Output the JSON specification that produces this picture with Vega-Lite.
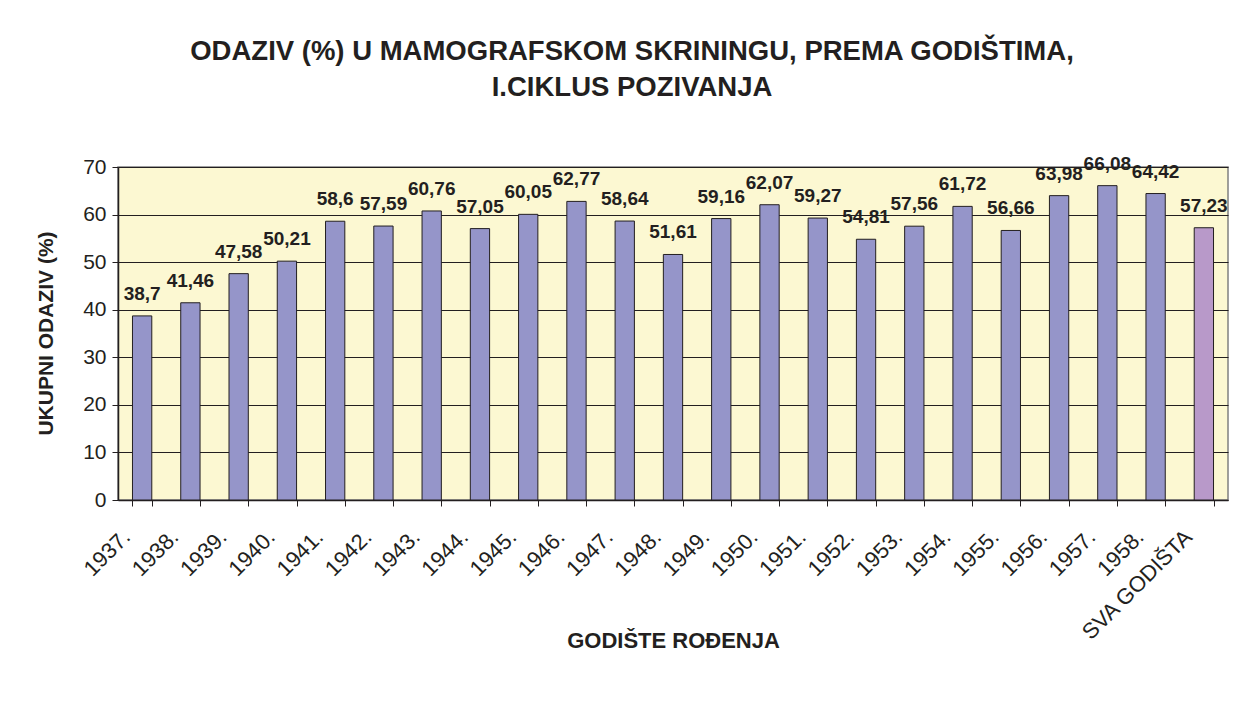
{
  "$schema": "https://vega.github.io/schema/vega-lite/v6.json",
  "width": 1110,
  "height": 333,
  "autosize": {"type": "none"},
  "padding": {"left": 118, "top": 167, "right": 6, "bottom": 222},
  "background": "#ffffff",
  "title": {
    "text": ["ODAZIV (%) U MAMOGRAFSKOM SKRININGU, PREMA GODIŠTIMA,", "I.CIKLUS POZIVANJA"],
    "font": "Liberation Sans",
    "fontSize": 27.5,
    "fontWeight": "bold",
    "color": "#231F20",
    "lineHeight": 36,
    "anchor": "middle",
    "baseline": "bottom",
    "dx": -41,
    "offset": 25
  },
  "data": {
    "values": [
      {"godiste": "1937.", "odaziv": 38.7, "grupa": "godiste"},
      {"godiste": "1938.", "odaziv": 41.46, "grupa": "godiste"},
      {"godiste": "1939.", "odaziv": 47.58, "grupa": "godiste"},
      {"godiste": "1940.", "odaziv": 50.21, "grupa": "godiste"},
      {"godiste": "1941.", "odaziv": 58.6, "grupa": "godiste"},
      {"godiste": "1942.", "odaziv": 57.59, "grupa": "godiste"},
      {"godiste": "1943.", "odaziv": 60.76, "grupa": "godiste"},
      {"godiste": "1944.", "odaziv": 57.05, "grupa": "godiste"},
      {"godiste": "1945.", "odaziv": 60.05, "grupa": "godiste"},
      {"godiste": "1946.", "odaziv": 62.77, "grupa": "godiste"},
      {"godiste": "1947.", "odaziv": 58.64, "grupa": "godiste"},
      {"godiste": "1948.", "odaziv": 51.61, "grupa": "godiste"},
      {"godiste": "1949.", "odaziv": 59.16, "grupa": "godiste"},
      {"godiste": "1950.", "odaziv": 62.07, "grupa": "godiste"},
      {"godiste": "1951.", "odaziv": 59.27, "grupa": "godiste"},
      {"godiste": "1952.", "odaziv": 54.81, "grupa": "godiste"},
      {"godiste": "1953.", "odaziv": 57.56, "grupa": "godiste"},
      {"godiste": "1954.", "odaziv": 61.72, "grupa": "godiste"},
      {"godiste": "1955.", "odaziv": 56.66, "grupa": "godiste"},
      {"godiste": "1956.", "odaziv": 63.98, "grupa": "godiste"},
      {"godiste": "1957.", "odaziv": 66.08, "grupa": "godiste"},
      {"godiste": "1958.", "odaziv": 64.42, "grupa": "godiste"},
      {"godiste": "SVA GODIŠTA", "odaziv": 57.23, "grupa": "ukupno"}
    ]
  },
  "encoding": {
    "x": {
      "field": "godiste",
      "type": "nominal",
      "sort": null,
      "scale": {"paddingInner": 0.6, "paddingOuter": 0.3},
      "axis": {
        "title": "GODIŠTE ROĐENJA",
        "titleFont": "Liberation Sans",
        "titleFontSize": 22,
        "titleFontWeight": "bold",
        "titleColor": "#231F20",
        "titleY": 140,
        "titleBaseline": "middle",
        "labelFont": "Liberation Sans",
        "labelFontSize": 22,
        "labelColor": "#231F20",
        "labelAngle": -45,
        "labelAlign": "right",
        "labelBaseline": "top",
        "labelPadding": 20,
        "labelOffset": -23,
        "tickBand": "extent",
        "tickColor": "#231F20",
        "tickSize": 6,
        "domainColor": "#231F20",
        "domainWidth": 1.5,
        "grid": false
      }
    },
    "y": {
      "field": "odaziv",
      "type": "quantitative",
      "scale": {"domain": [0, 70]},
      "axis": {
        "title": "UKUPNI ODAZIV (%)",
        "titleFont": "Liberation Sans",
        "titleFontSize": 21,
        "titleFontWeight": "bold",
        "titleColor": "#231F20",
        "titleX": -72,
        "titleY": 166,
        "titleBaseline": "middle",
        "titleAnchor": "middle",
        "values": [0, 10, 20, 30, 40, 50, 60, 70],
        "labelFont": "Liberation Sans",
        "labelFontSize": 21,
        "labelColor": "#231F20",
        "labelPadding": 6,
        "tickColor": "#231F20",
        "tickSize": 6,
        "domainColor": "#231F20",
        "domainWidth": 1.5,
        "grid": true,
        "gridColor": "#231F20",
        "gridWidth": 1.2
      }
    }
  },
  "layer": [
    {
      "mark": {"type": "bar", "stroke": "#231F20", "strokeWidth": 1},
      "encoding": {
        "color": {
          "field": "grupa",
          "type": "nominal",
          "scale": {"domain": ["godiste", "ukupno"], "range": ["#9595C9", "#B899C9"]},
          "legend": null
        }
      }
    },
    {
      "mark": {
        "type": "text",
        "font": "Liberation Sans",
        "fontSize": 19,
        "fontWeight": "bold",
        "color": "#231F20",
        "baseline": "alphabetic",
        "dy": -16
      },
      "encoding": {
        "text": {"field": "odaziv", "type": "quantitative", "format": "~r"}
      }
    }
  ],
  "config": {
    "locale": {
      "number": {"decimal": ",", "thousands": ".", "grouping": [3], "currency": ["", " kn"]}
    },
    "view": {"fill": "#FCF8D2", "stroke": "#808080", "strokeWidth": 1.5}
  }
}
